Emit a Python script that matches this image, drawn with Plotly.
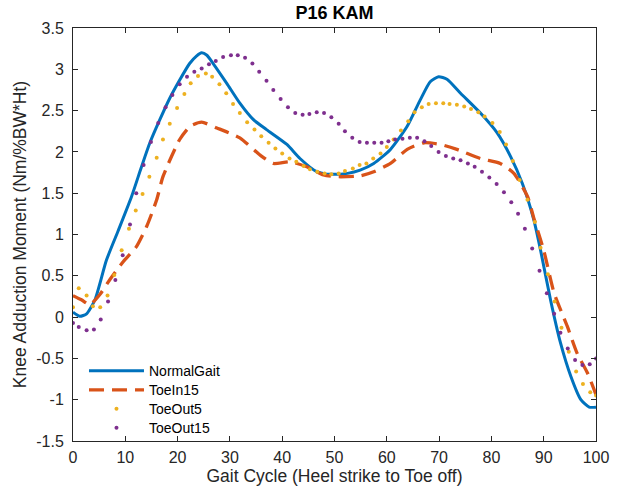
import plotly.graph_objects as go

# ---------------- data ----------------
normal_x = [0, 1.3, 2.6, 4.2, 6.4, 8.6, 11.2, 13.1, 14.7, 16.6, 18.5, 20.4, 22.3, 23.6, 24.6, 25.6,
            26.8, 29.4, 31.9, 34.5, 37.0, 40.9, 43.4, 46.6, 48.5, 50.5, 52.5, 54.9, 57.5, 60.7, 63.9,
            66.4, 68.3, 69.9, 71.5, 74.1, 77.9, 81.1, 83.7, 85.9, 88.1, 89.4, 91.3, 93.2, 95.2, 97.1,
            98.7, 100]
normal_y = [0.06, 0.01, 0.04, 0.21, 0.69, 1.04, 1.46, 1.82, 2.11, 2.39, 2.65, 2.87, 3.07, 3.16, 3.20,
            3.17, 3.07, 2.83, 2.59, 2.39, 2.27, 2.09, 1.92, 1.76, 1.73, 1.73, 1.74, 1.78, 1.86, 2.03,
            2.31, 2.63, 2.85, 2.91, 2.88, 2.71, 2.47, 2.23, 1.94, 1.62, 1.18, 0.81, 0.21, -0.31, -0.72,
            -1.00, -1.09, -1.09]

toein_x = [0, 1.6, 3.2, 5.1, 7.0, 9.6, 12.1, 14.1, 16.0, 17.2, 20.4, 22.4, 24.6, 27.5, 31.9, 35.8,
           38.3, 41.5, 44.7, 47.9, 50.5, 54.9, 57.5, 60.7, 63.9, 67.1, 70.3, 73.4, 77.9, 81.7, 84.3,
           86.9, 88.1, 90.0, 92.0, 94.5, 96.4, 98.4, 100]
toein_y = [0.26, 0.21, 0.15, 0.27, 0.45, 0.67, 0.85, 1.10, 1.42, 1.70, 2.15, 2.31, 2.36, 2.29, 2.17,
           1.96, 1.86, 1.88, 1.82, 1.72, 1.70, 1.71, 1.76, 1.86, 2.03, 2.11, 2.09, 2.03, 1.92, 1.86,
           1.74, 1.46, 1.20, 0.81, 0.29, -0.11, -0.44, -0.68, -0.94]

toeout5_x = [0, 1.1, 2.6, 3.8, 5.2, 6.6, 7.9, 9.3, 10.7, 12.0, 13.3, 14.6, 16.0, 17.2, 18.5, 19.9,
             21.3, 22.5, 23.9, 25.4, 26.6, 28.0, 29.3, 30.6, 31.9, 33.3, 34.7, 36.0, 37.4, 38.7, 40.0,
             41.4, 42.7, 44.1, 45.3, 46.7, 48.1, 49.4, 50.8, 52.0, 53.5, 54.8, 56.1, 57.4, 58.8, 60.0,
             61.3, 62.7, 64.1, 65.3, 66.7, 68.0, 69.4, 70.8, 72.0, 73.4, 74.8, 76.1, 77.5, 78.7, 80.2,
             81.6, 82.8, 84.1, 85.4, 86.9, 88.3, 89.4, 90.8, 92.1, 93.4, 94.8, 96.2, 97.5, 98.9, 100]
toeout5_y = [0.12, 0.35, 0.26, 0.13, 0.12, 0.26, 0.51, 0.81, 1.07, 1.29, 1.49, 1.70, 1.93, 2.15, 2.34,
             2.53, 2.70, 2.83, 2.92, 2.95, 2.91, 2.82, 2.71, 2.58, 2.47, 2.36, 2.27, 2.19, 2.11, 2.04,
             1.98, 1.92, 1.88, 1.83, 1.79, 1.76, 1.74, 1.73, 1.74, 1.77, 1.80, 1.84, 1.86, 1.92, 1.98,
             2.06, 2.15, 2.26, 2.37, 2.48, 2.54, 2.58, 2.59, 2.59, 2.58, 2.57, 2.55, 2.52, 2.48, 2.43,
             2.35, 2.24, 2.09, 1.89, 1.66, 1.42, 1.15, 0.84, 0.52, 0.19, -0.13, -0.42, -0.66, -0.81,
             -0.91, -0.95]

toeout15_x = [0, 1.1, 2.6, 4.0, 5.3, 6.7, 8.1, 9.5, 10.9, 12.1, 13.5, 14.9, 16.3, 17.7, 19.0, 20.4,
              21.8, 23.2, 24.6, 26.0, 27.3, 28.7, 30.2, 31.5, 32.9, 34.3, 35.6, 37.0, 38.3, 39.7, 41.1,
              42.5, 43.9, 45.2, 46.6, 48.0, 49.4, 50.8, 52.0, 53.4, 54.8, 56.2, 57.6, 59.0, 60.3, 61.6,
              63.0, 64.4, 65.8, 67.2, 68.5, 69.9, 71.3, 72.7, 74.1, 75.5, 76.8, 78.2, 79.6, 81.0, 82.4,
              83.8, 85.1, 86.4, 87.8, 89.2, 90.6, 92.0, 93.2, 94.6, 96.0, 97.4, 98.8, 100]
toeout15_y = [-0.07, -0.12, -0.16, -0.15, -0.03, 0.19, 0.45, 0.75, 1.12, 1.50, 1.84, 2.12, 2.35, 2.54,
              2.69, 2.82, 2.91, 2.97, 3.01, 3.06, 3.10, 3.15, 3.17, 3.17, 3.14, 3.07, 2.97, 2.86, 2.75,
              2.64, 2.54, 2.47, 2.45, 2.46, 2.48, 2.47, 2.42, 2.34, 2.25, 2.17, 2.12, 2.11, 2.11, 2.11,
              2.13, 2.15, 2.16, 2.17, 2.17, 2.13, 2.07, 2.00, 1.95, 1.92, 1.90, 1.86, 1.82, 1.76, 1.69,
              1.61, 1.51, 1.39, 1.25, 1.07, 0.83, 0.56, 0.29, 0.04, -0.19, -0.38, -0.52, -0.58, -0.57,
              -0.50]

x_ticks = [0, 10, 20, 30, 40, 50, 60, 70, 80, 90, 100]
y_ticks = [-1.5, -1, -0.5, 0, 0.5, 1, 1.5, 2, 2.5, 3, 3.5]
series_names = ["NormalGait", "ToeIn15", "ToeOut5", "ToeOut15"]

# ---------------- figure ----------------
FONT = "Liberation Sans, Arial, sans-serif"
AX = "#262626"


def leg(name):
    return f'<span style="font-size:14px">{name}</span>'


fig = go.Figure()
fig.add_trace(go.Scatter(x=normal_x, y=normal_y, mode="lines", name=leg(series_names[0]),
                         line=dict(color="#0072BD", width=3, shape="spline", smoothing=0.6)))
fig.add_trace(go.Scatter(x=toein_x, y=toein_y, mode="lines", name=leg(series_names[1]),
                         line=dict(color="#D95319", width=3.3, dash="15px,8px", shape="spline",
                                   smoothing=0.6)))
fig.add_trace(go.Scatter(x=toeout5_x, y=toeout5_y, mode="markers", name=leg(series_names[2]),
                         marker=dict(color="#EDB120", size=4, line=dict(width=0))))
fig.add_trace(go.Scatter(x=toeout15_x, y=toeout15_y, mode="markers", name=leg(series_names[3]),
                         marker=dict(color="#7E2F8E", size=4, line=dict(width=0))))

axis_common = dict(showgrid=False, zeroline=False, showline=True, linecolor=AX, linewidth=1,
                   mirror="ticks", ticks="inside", ticklen=5, tickcolor=AX, tickwidth=1,
                   tickfont=dict(family=FONT, size=16, color=AX))

fig.update_xaxes(range=[0, 100], tickvals=x_ticks, ticktext=[str(v) for v in x_ticks],
                 title=dict(text="Gait Cycle (Heel strike to Toe off)",
                            font=dict(family=FONT, size=17.5, color=AX), standoff=0),
                 ticklabelstandoff=2, **axis_common)
fig.update_yaxes(range=[-1.5, 3.5], tickvals=y_ticks, ticktext=[f"{v:g}" for v in y_ticks],
                 title=dict(text="Knee Adduction Moment (Nm/%BW*Ht)",
                            font=dict(family=FONT, size=17.5, color=AX), standoff=5),
                 ticklabelstandoff=5, **axis_common)

fig.update_layout(
    width=624, height=490,
    margin=dict(l=73, r=28, t=28, b=49),
    paper_bgcolor="white", plot_bgcolor="white",
    title=dict(text="<b>P16 KAM</b>", x=0.536, xanchor="center", y=0.975, yanchor="middle",
               font=dict(family=FONT, size=18, color="#000000")),
    legend=dict(x=0.021, y=0.205, xanchor="left", yanchor="top", bgcolor="rgba(0,0,0,0)",
                borderwidth=0, font=dict(family=FONT, size=12, color="#000000"),
                itemwidth=55, tracegroupgap=0),
    showlegend=True,
)

fig.write_html("out.html")
